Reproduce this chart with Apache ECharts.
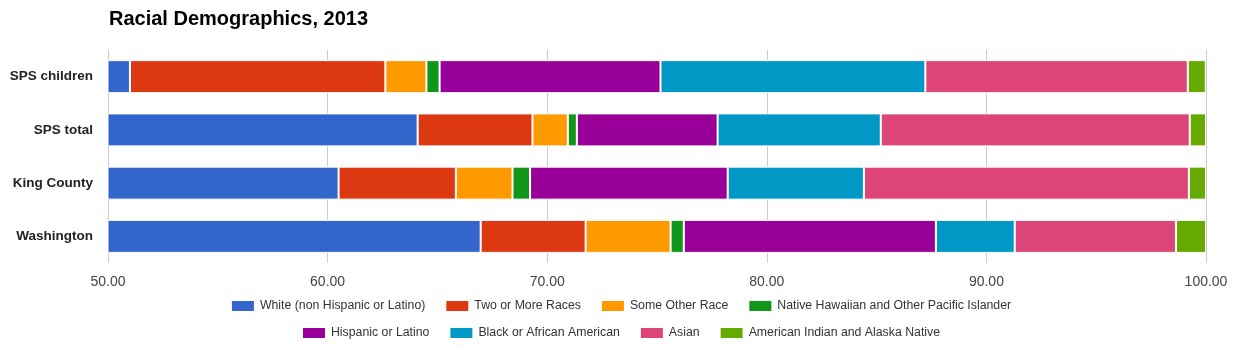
<!DOCTYPE html>
<html>
<head>
<meta charset="utf-8">
<script src="https://cdn.jsdelivr.net/npm/echarts@6/dist/echarts.min.js"></script>
<style>html,body{margin:0;padding:0;background:#fff}#c{width:1241px;height:348px}</style>
</head>
<body>
<div id="c"></div>
<script>
const categories = ['SPS children', 'SPS total', 'King County', 'Washington'];
const seriesNames = ['White (non Hispanic or Latino)', 'Two or More Races', 'Some Other Race', 'Native Hawaiian and Other Pacific Islander', 'Hispanic or Latino', 'Black or African American', 'Asian', 'American Indian and Alaska Native'];
const colors = ['#3366cc', '#dc3912', '#ff9900', '#109618', '#990099', '#0099c6', '#dd4477', '#66aa00'];
const white = [51.0, 64.1, 60.5, 66.97];
const twoOrMore = [11.63, 5.23, 5.34, 4.78];
const otherRace = [1.87, 1.61, 2.58, 3.87];
const nativeHawaiian = [0.6, 0.41, 0.8, 0.6];
const hispanic = [10.06, 6.41, 9.0, 11.48];
const black = [12.06, 7.43, 6.2, 3.59];
const asian = [11.95, 14.07, 14.8, 7.34];
const americanIndian = [0.82, 0.74, 0.78, 1.37];
const xTicks = [50, 60, 70, 80, 90, 100];

const values = [white, twoOrMore, otherRace, nativeHawaiian, hispanic, black, asian, americanIndian];
const chart = echarts.init(document.getElementById('c'), null, {renderer: 'canvas'});
const legendText = {fontFamily: 'Arial, "Liberation Sans", sans-serif', fontSize: 12.3, color: '#333'};
chart.setOption({
  animation: false,
  color: colors,
  title: {
    text: 'Racial Demographics, 2013',
    left: 104, top: 4,
    textStyle: {fontFamily: 'Arial, "Liberation Sans", sans-serif', fontSize: 20, fontWeight: 'bold', color: '#000'}
  },
  legend: [
    {data: seriesNames.slice(0, 4), left: 'center', top: 294, itemWidth: 24, itemHeight: 12, itemGap: 19, textStyle: legendText, icon: 'rect'},
    {data: seriesNames.slice(4), left: 'center', top: 321, itemWidth: 24, itemHeight: 12, itemGap: 19, textStyle: legendText, icon: 'rect'}
  ],
  grid: {left: 108, right: 35, top: 50, height: 213, containLabel: false},
  xAxis: {
    type: 'value', min: xTicks[0], max: xTicks[xTicks.length - 1], interval: 10,
    axisLine: {show: false}, axisTick: {show: false},
    splitLine: {show: true, lineStyle: {color: '#cccccc', width: 1}},
    axisLabel: {formatter: v => v.toFixed(2), color: '#444', fontSize: 14, fontFamily: 'Arial, "Liberation Sans", sans-serif', margin: 12}
  },
  yAxis: {
    type: 'category', data: categories, inverse: true,
    axisLine: {show: false}, axisTick: {show: false},
    axisLabel: {color: '#222', fontWeight: 'bold', fontSize: 13.5, fontFamily: 'Arial, "Liberation Sans", sans-serif', margin: 15}
  },
  series: seriesNames.map((name, i) => ({
    name, type: 'bar', stack: 'total', data: values[i], barWidth: 33, clip: true,
    itemStyle: {borderColor: '#fff', borderWidth: 1}
  }))
});
</script>
</body>
</html>
